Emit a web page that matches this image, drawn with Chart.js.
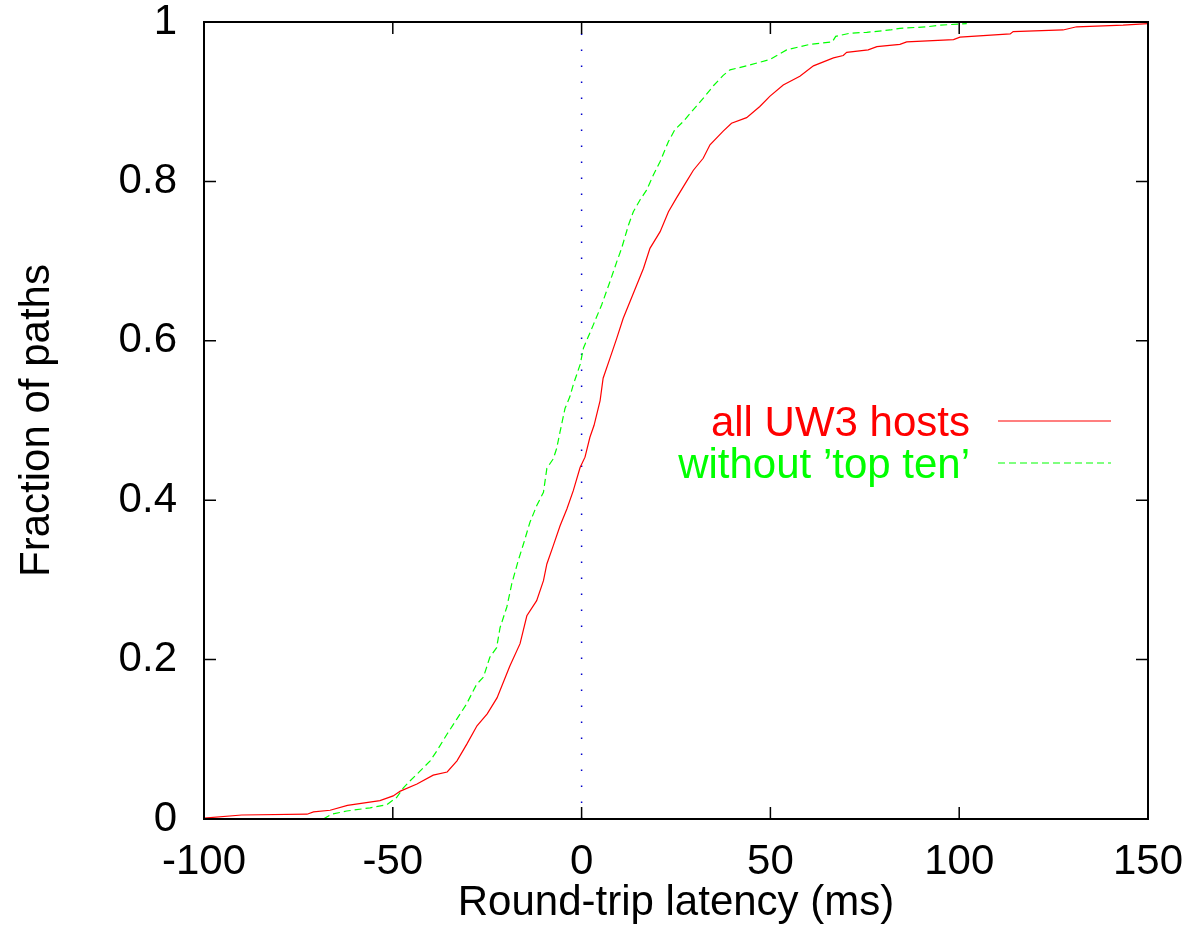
<!DOCTYPE html>
<html>
<head>
<meta charset="utf-8">
<title>Round-trip latency CDF</title>
<script src="https://cdn.jsdelivr.net/npm/chart.js@4.4.1/dist/chart.umd.min.js"></script>
<style>
  body { margin: 0; background: #fff; }
  canvas { display: block; }
</style>
</head>
<body>
<canvas id="cdf" width="1188" height="929"></canvas>
<script>
// CDF of round-trip latency difference, all hosts vs. hosts without the top ten
const allLatency = [-100, -90, -72.7, -71, -66.6, -62, -53.4, -49.9, -48, -43.6, -39.3, -35.6, -33, -30.4, -27.7, -25, -22.4, -19, -16.3, -14.5,
  -11.9, -10.1, -9.2, -7.5, -5.7, -3.9, -2.2, -0.4, 0.9, 2.2, 3.3, 4.9, 5.7, 7.5, 9.3, 11.0, 12.8, 14.6, 16.4, 18.1,
  20.8, 23.0, 25.1, 27.8, 29.6, 32.2, 34.0, 37.5, 39.7, 43.7, 47.2, 49.9, 53.4, 57.8, 61.4, 66.7, 69.3, 70.2, 75.9, 78.2,
  84.3, 86.1, 98.5, 100.2, 113.5, 114.3, 127.5, 131.1, 143.4, 150];
const allFraction = [0.001, 0.005, 0.006, 0.009, 0.011, 0.017, 0.023, 0.029, 0.035, 0.044, 0.055, 0.059, 0.073, 0.094, 0.117, 0.132, 0.152, 0.192, 0.22, 0.255,
  0.274, 0.299, 0.32, 0.343, 0.368, 0.389, 0.412, 0.441, 0.454, 0.479, 0.494, 0.525, 0.553, 0.578, 0.603, 0.628, 0.649, 0.67, 0.691, 0.716,
  0.737, 0.762, 0.779, 0.8, 0.814, 0.829, 0.846, 0.863, 0.873, 0.88, 0.894, 0.907, 0.921, 0.932, 0.945, 0.955, 0.958, 0.962, 0.965, 0.969,
  0.972, 0.975, 0.978, 0.981, 0.985, 0.988, 0.99, 0.994, 0.996, 0.998];

const topLatency = [-68.4, -66.2, -62.2, -56, -51.6, -49, -47.2, -45.4, -42.8, -40.1, -38.4, -35.7, -33.1, -30.5, -27.8, -26, -24.3, -22.5, -21.6, -19.8,
  -18.5, -16.8, -15.4, -13.7, -11.9, -10.1, -9.2, -7.5, -6.6, -5.7, -4.4, -3.1, -2.2, -0.4, 0.5, 3.1, 5.3, 7.5, 9.3, 10.6,
  12.4, 13.7, 15.5, 17.2, 19.0, 20.8, 23.0, 24.7, 26.9, 29.6, 32.7, 34.9, 37.5, 39.3, 43.7, 49.9, 54.3, 60.5, 66.4, 67.3,
  71.1, 75.5, 81.7, 84.3, 91.4, 94.9, 102];
const topFraction = [0, 0.006, 0.01, 0.014, 0.018, 0.027, 0.039, 0.048, 0.06, 0.073, 0.085, 0.106, 0.125, 0.144, 0.169, 0.178, 0.203, 0.215, 0.24, 0.266,
  0.295, 0.324, 0.345, 0.372, 0.393, 0.41, 0.44, 0.452, 0.465, 0.486, 0.515, 0.53, 0.545, 0.57, 0.591, 0.62, 0.645, 0.674, 0.699, 0.716,
  0.745, 0.762, 0.777, 0.789, 0.808, 0.825, 0.85, 0.865, 0.875, 0.89, 0.907, 0.92, 0.933, 0.94, 0.945, 0.953, 0.965, 0.972, 0.975, 0.982,
  0.986, 0.987, 0.99, 0.992, 0.994, 0.996, 0.998];

const seriesLabels = ['all UW3 hosts', "without \u2019top ten\u2019"];
const zeroLine = [0, 1];   // fraction range spanned by the x = 0 marker
const xRange = [-100, 150];
const yRange = [0, 1];

const toPoints = (xs, ys) => xs.map((x, i) => ({ x: x, y: ys[i] }));

Chart.defaults.font.family = '"Liberation Sans", Arial, sans-serif';
Chart.defaults.font.size = 42;
Chart.defaults.color = '#000';

// box around the plot with tick marks pointing inward on all four sides
const frame = {
  id: 'frame',
  afterDatasetsDraw(chart) {
    const { ctx, chartArea: a, scales } = chart;
    const len = 12;
    ctx.save();
    ctx.strokeStyle = '#000';
    ctx.lineWidth = 1.5;
    ctx.beginPath();
    scales.x.ticks.forEach(t => {
      const px = scales.x.getPixelForValue(t.value);
      ctx.moveTo(px, a.bottom); ctx.lineTo(px, a.bottom - len);
      ctx.moveTo(px, a.top); ctx.lineTo(px, a.top + len);
    });
    scales.y.ticks.forEach(t => {
      const py = scales.y.getPixelForValue(t.value);
      ctx.moveTo(a.left, py); ctx.lineTo(a.left + len, py);
      ctx.moveTo(a.right, py); ctx.lineTo(a.right - len, py);
    });
    ctx.stroke();
    ctx.lineWidth = 2;
    ctx.strokeRect(a.left, a.top, a.right - a.left, a.bottom - a.top);
    ctx.restore();
  }
};

// key inside the plot: right-aligned label followed by a sample of the line
const keyBox = {
  id: 'keyBox',
  afterDraw(chart) {
    const { ctx, chartArea: a } = chart;
    const textRight = a.right - 178;
    const lineStart = a.right - 150;
    const lineEnd = a.right - 37;
    let rowY = a.top + 399;
    ctx.save();
    ctx.font = '42px "Liberation Sans", Arial, sans-serif';
    ctx.textAlign = 'right';
    ctx.textBaseline = 'alphabetic';
    chart.data.datasets.forEach(ds => {
      if (!ds.label) return;
      ctx.fillStyle = ds.borderColor;
      ctx.fillText(ds.label, textRight, rowY + 15);
      ctx.strokeStyle = ds.borderColor;
      ctx.lineWidth = ds.borderWidth;
      ctx.setLineDash(ds.borderDash || []);
      ctx.beginPath();
      ctx.moveTo(lineStart, rowY);
      ctx.lineTo(lineEnd, rowY);
      ctx.stroke();
      rowY += 42;
    });
    ctx.restore();
  }
};

new Chart(document.getElementById('cdf'), {
  type: 'line',
  data: {
    datasets: [
      {
        label: seriesLabels[0],
        data: toPoints(allLatency, allFraction),
        borderColor: '#ff0000',
        borderWidth: 1.2,
        pointRadius: 0,
        tension: 0
      },
      {
        label: seriesLabels[1],
        data: toPoints(topLatency, topFraction),
        borderColor: '#00ff00',
        borderWidth: 1.2,
        borderDash: [7, 4],
        pointRadius: 0,
        tension: 0
      },
      {
        label: '',
        data: zeroLine.map(f => ({ x: 0, y: f })),
        borderColor: '#0000cc',
        borderWidth: 1.5,
        borderDash: [1.5, 14.5],
        pointRadius: 0
      }
    ]
  },
  options: {
    responsive: false,
    animation: false,
    layout: { padding: { top: 22, right: 40, left: 0, bottom: 0 } },
    plugins: {
      legend: { display: false },
      tooltip: { enabled: false }
    },
    scales: {
      x: {
        type: 'linear',
        min: xRange[0],
        max: xRange[1],
        ticks: { stepSize: 50, padding: 18, maxRotation: 0 },
        grid: { display: false, drawTicks: false },
        border: { display: false },
        title: { display: true, text: 'Round-trip latency (ms)', padding: { top: 0, bottom: 0 } },
        afterFit(scale) {
          scale.height = 110;
          scale.paddingLeft = 0;
          scale.paddingRight = 0;
        }
      },
      y: {
        type: 'linear',
        min: yRange[0],
        max: yRange[1],
        ticks: { stepSize: 0.2, padding: 27, callback: v => String(+v.toFixed(1)) },
        grid: { display: false, drawTicks: false },
        border: { display: false },
        title: { display: true, text: 'Fraction of paths', padding: { top: 12, bottom: 0 } },
        afterFit(scale) {
          scale.width = 204;
          scale.paddingTop = 0;
          scale.paddingBottom = 0;
        }
      }
    }
  },
  plugins: [frame, keyBox]
});
</script>
</body>
</html>
